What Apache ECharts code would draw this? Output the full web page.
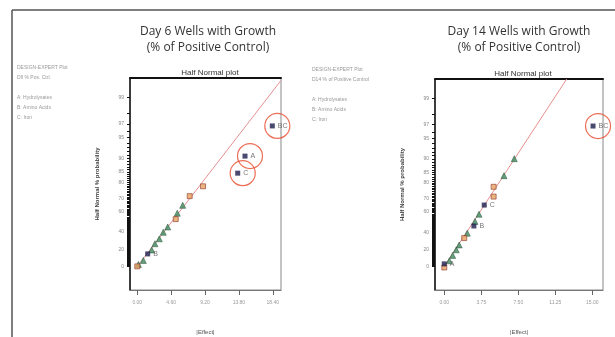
<!DOCTYPE html>
<html>
<head>
<meta charset="utf-8">
<script src="https://cdn.jsdelivr.net/npm/echarts@6/dist/echarts.min.js"></script>
<style>
  html, body { margin: 0; padding: 0; background: #fff; }
  #chart { width: 615px; height: 337px; }
</style>
</head>
<body>
<div id="chart"></div>
<script>
// half normal % probability labels on the y axis
const probLabels = [0, 20, 40, 60, 70, 80, 85, 90, 95, 97, 99]

// points: [|effect|, normal score]
const day6Labeled = [[18.34, 2.14, 'BC'], [14.63, 1.68, 'A'], [13.64, 1.42, 'C'], [1.41, 0.19, 'B']]
const day6Positive = [[0.0, 0.0], [5.22, 0.72], [7.12, 1.07], [8.93, 1.22]]
const day6Negative = [[0.15, 0.03], [0.82, 0.09], [1.96, 0.25], [2.40, 0.345], [2.99, 0.42],
  [3.53, 0.52], [4.13, 0.60], [5.43, 0.81], [6.17, 0.93]]
const day6Fit = [[0, 0], [19.5, 2.83]]
const day6Circled = ['BC', 'A', 'C']
const day6XTicks = [0, 4.6, 9.2, 13.8, 18.4]

const day14Labeled = [[15.07, 2.15, 'BC'], [4.05, 0.94, 'C'], [3.0, 0.62, 'B'], [0.0, 0.04, 'A']]
const day14Positive = [[0.0, -0.015], [2.02, 0.435], [5.0, 1.07], [5.0, 1.22]]
const day14Negative = [[0.51, 0.087], [0.85, 0.17], [1.21, 0.255], [1.51, 0.33], [2.33, 0.51],
  [3.11, 0.69], [3.52, 0.80], [6.05, 1.39], [7.09, 1.65]]
const day14Fit = [[0, 0], [12.4, 2.87]]
const day14Circled = ['BC']
const day14XTicks = [0, 3.75, 7.5, 11.25, 15]

// inverse standard normal cdf (Acklam)
function invNorm(p) {
  const a = [-39.69683028665376, 220.9460984245205, -275.9285104469687, 138.357751867269, -30.66479806614716, 2.506628277459239]
  const b = [-54.47609879822406, 161.5858368580409, -155.6989798598866, 66.80131188771972, -13.28068155288572]
  const c = [-0.007784894002430293, -0.3223964580411365, -2.400758277161838, -2.549732539343734, 4.374664141464968, 2.938163982698783]
  const d = [0.007784695709041462, 0.3224671290700398, 2.445134137142996, 3.754408661907416]
  const plow = 0.02425
  if (p < plow) {
    const q = Math.sqrt(-2 * Math.log(p))
    return (((((c[0] * q + c[1]) * q + c[2]) * q + c[3]) * q + c[4]) * q + c[5]) / ((((d[0] * q + d[1]) * q + d[2]) * q + d[3]) * q + 1)
  }
  if (p > 1 - plow) {
    const q = Math.sqrt(-2 * Math.log(1 - p))
    return -(((((c[0] * q + c[1]) * q + c[2]) * q + c[3]) * q + c[4]) * q + c[5]) / ((((d[0] * q + d[1]) * q + d[2]) * q + d[3]) * q + 1)
  }
  const q = p - 0.5
  const r = q * q
  return (((((a[0] * r + a[1]) * r + a[2]) * r + a[3]) * r + a[4]) * r + a[5]) * q / (((((b[0] * r + b[1]) * r + b[2]) * r + b[3]) * r + b[4]) * r + 1)
}
const halfNormal = pct => (pct <= 0 ? 0 : invNorm((1 + pct / 100) / 2))
const labelZ = probLabels.map(halfNormal)
// a tick at every whole percent
const tickZ = []
for (let pct = 0; pct <= 99; pct++) tickZ.push(halfNormal(pct))
function probFormatter(v) {
  let best = 0
  labelZ.forEach((z, i) => { if (Math.abs(z - v) < Math.abs(labelZ[best] - v)) best = i })
  return String(probLabels[best])
}

const Y_MIN = -0.36
const Y_MAX = 2.87
const FONT = 'Liberation Sans'

function xAxes(gridIndex, min, max, ticks) {
  return [{
    type: 'value', gridIndex, min, max, position: 'bottom',
    name: '|Effect|', nameLocation: 'middle', nameGap: 39,
    nameTextStyle: { fontSize: 6, color: '#555', fontFamily: FONT },
    axisLine: { show: true, onZero: false, lineStyle: { color: '#777', width: 1.2 } },
    axisTick: { show: true, length: 5, lineStyle: { color: '#666' }, customValues: ticks },
    axisLabel: {
      fontSize: 5, color: '#999', margin: 10, fontFamily: FONT,
      customValues: ticks, formatter: v => v.toFixed(2)
    },
    splitLine: { show: false }
  }, {
    type: 'value', gridIndex, min, max, position: 'top',
    axisLine: { show: true, onZero: false, lineStyle: { color: '#111', width: 2 } },
    axisTick: { show: false }, axisLabel: { show: false }, splitLine: { show: false }
  }]
}

function yAxis(gridIndex) {
  return {
    type: 'value', gridIndex, min: Y_MIN, max: Y_MAX, position: 'left',
    name: 'Half Normal % probability', nameLocation: 'middle', nameGap: 30,
    nameTextStyle: { fontSize: 6, color: '#444', fontWeight: 'bold', fontFamily: FONT },
    axisLine: { show: true, onZero: false, lineStyle: { color: '#111', width: 1.5 } },
    axisTick: { show: true, length: 3, lineStyle: { color: '#111', width: 1 }, customValues: tickZ },
    axisLabel: { fontSize: 5, color: '#888', margin: 6, fontFamily: FONT, customValues: labelZ, formatter: probFormatter },
    splitLine: { show: false }
  }
}

function panelSeries(axisIndex, fit, positive, negative, labeled, circled) {
  const xi = axisIndex * 2
  const yi = axisIndex
  return [{
    type: 'line', xAxisIndex: xi, yAxisIndex: yi, data: fit, symbol: 'none', silent: true,
    lineStyle: { color: '#e58f8f', width: 1 }, z: 1
  }, {
    type: 'scatter', xAxisIndex: xi, yAxisIndex: yi, data: negative, symbol: 'triangle', symbolSize: 6,
    itemStyle: { color: '#3f8a5c', borderColor: '#1e4a30', borderWidth: 0.6 }
  }, {
    type: 'scatter', xAxisIndex: xi, yAxisIndex: yi, data: positive, symbol: 'rect', symbolSize: 5,
    itemStyle: { color: '#e9a060', borderColor: '#8a3b2a', borderWidth: 0.8 }
  }, {
    type: 'scatter', xAxisIndex: xi, yAxisIndex: yi, symbol: 'rect', symbolSize: 5,
    data: labeled.map(d => ({ value: [d[0], d[1]], name: d[2] })),
    itemStyle: { color: '#1d1d4d' },
    label: {
      show: true, position: 'right', distance: 3, formatter: '{b}',
      fontSize: 7, color: '#555', fontFamily: FONT
    }
  }, {
    type: 'scatter', xAxisIndex: xi, yAxisIndex: yi, symbol: 'circle', symbolSize: 25, symbolOffset: [5, 0],
    silent: true,
    data: labeled.filter(d => circled.includes(d[2])).map(d => [d[0], d[1]]),
    itemStyle: { color: 'transparent', borderColor: '#e8482a', borderWidth: 1.2 }
  }]
}

function noteText(left, top, lines) {
  return {
    type: 'text', left, top,
    style: { text: lines.join('\n'), fontSize: 5, lineHeight: 10, fill: '#999', fontFamily: FONT }
  }
}

const chart = echarts.init(document.getElementById('chart'))
chart.setOption({
  animation: false,
  title: [
    { text: 'Day 6 Wells with Growth\n(% of Positive Control)', left: 203, top: 19, textAlign: 'center',
      textStyle: { fontSize: 12, fontWeight: 'normal', color: '#333', lineHeight: 16, fontFamily: 'Open Sans' } },
    { text: 'Day 14 Wells with Growth\n(% of Positive Control)', left: 514, top: 19, textAlign: 'center',
      textStyle: { fontSize: 12, fontWeight: 'normal', color: '#333', lineHeight: 16, fontFamily: 'Open Sans' } },
    { text: 'Half Normal plot', left: 205, top: 64, textAlign: 'center',
      textStyle: { fontSize: 8, fontWeight: 'normal', color: '#333', fontFamily: FONT } },
    { text: 'Half Normal plot', left: 518, top: 65, textAlign: 'center',
      textStyle: { fontSize: 8, fontWeight: 'normal', color: '#333', fontFamily: FONT } }
  ],
  grid: [
    { left: 130, top: 78, width: 151, height: 212, show: true, borderColor: '#888', borderWidth: 1, outerBoundsMode: 'none' },
    { left: 435, top: 79, width: 168, height: 211, show: true, borderColor: '#888', borderWidth: 1, outerBoundsMode: 'none' }
  ],
  xAxis: [
    ...xAxes(0, -0.99, 19.52, day6XTicks),
    ...xAxes(1, -0.94, 16.08, day14XTicks)
  ],
  yAxis: [yAxis(0), yAxis(1)],
  series: [
    ...panelSeries(0, day6Fit, day6Positive, day6Negative, day6Labeled, day6Circled),
    ...panelSeries(1, day14Fit, day14Positive, day14Negative, day14Labeled, day14Circled)
  ],
  graphic: [
    { type: 'line', shape: { x1: 12, y1: 10, x2: 615, y2: 10 }, style: { stroke: '#555', lineWidth: 1.5 } },
    { type: 'line', shape: { x1: 12, y1: 10, x2: 12, y2: 337 }, style: { stroke: '#555', lineWidth: 1.5 } },
    noteText(17, 63, ['DESIGN-EXPERT Plot', 'Dfl % Pos. Ctrl.', '', 'A: Hydrolysates', 'B: Amino Acids', 'C: Iron']),
    noteText(312, 65, ['DESIGN-EXPERT Plot', 'D14 % of Positive Control', '', 'A: Hydrolysates', 'B: Amino Acids', 'C: Iron'])
  ]
})
</script>
</body>
</html>
